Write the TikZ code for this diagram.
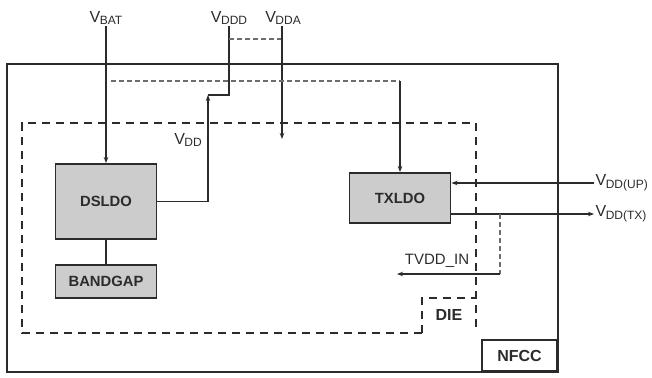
\documentclass[tikz,border=0pt]{standalone}
\usepackage{fontspec}
\setmainfont{Liberation Sans}
\usetikzlibrary{arrows.meta, positioning, calc}
\definecolor{cline}{HTML}{2B2B2B}
\definecolor{cdash}{HTML}{6E6E6E}
\definecolor{cfill}{HTML}{CCCCCC}
\newcommand{\vlabel}[1]{V\kern-0.5pt\raisebox{-0.3ex}{\fontsize{12}{12}\selectfont #1}}
\tikzset{
  every picture/.style={line width=1.2pt},
  block/.style={draw=cline, fill=cfill, line width=1.9pt, minimum width=101pt, align=center, text=cline, font=\fontsize{14.8}{16}\selectfont\bfseries},
  frame/.style={draw=cline, line width=1.9pt},
  diebox/.style={draw=cline, line width=2pt, dash pattern=on 8pt off 6pt},
  wire/.style={draw=cline, line width=1.2pt},
  arrow/.style={wire, -{Stealth[length=6pt,width=4.5pt]}},
  thindash/.style={wire, draw=cdash, line width=1.3pt, dash pattern=on 5pt off 3pt},
  pin/.style={font=\fontsize{16}{18}\selectfont, text=cline, inner sep=1pt},
  tag/.style={font=\fontsize{16}{18}\selectfont\bfseries, text=cline},
}
\begin{document}
\begin{tikzpicture}[x=1pt, y=-1pt]
  \useasboundingbox (0,0) rectangle (652,377);
  % NFCC chip outline
  \draw[frame] (7,64) rectangle (558,372);
  \node[tag, frame, minimum width=75pt, minimum height=31pt, anchor=south east] (nfcc) at (558,372) {NFCC};
  % die outline
  \node[tag, minimum width=53pt, minimum height=34pt, anchor=south east] (die) at (476,333) {DIE};
  \draw[diebox] (die.south west) -| (22,123) -| (die.south east);
  \draw[diebox] (die.south west) |- (die.north east);
  % blocks
  \node[block, minimum height=75pt] (dsldo) at (106,201.5) {DSLDO};
  \node[block, minimum height=33pt] (bandgap) at (106,281.5) {BANDGAP};
  \node[block, minimum height=50pt] (txldo) at (400,198) {TXLDO};
  \draw[wire] (dsldo.south) -- (bandgap.north);
  % supply pins
  \node[pin] (vbat) at (106,18) {\vlabel{BAT}};
  \node[pin] (vddd) at (229,18) {\vlabel{DDD}};
  \node[pin] (vdda) at (283,18) {\vlabel{DDA}};
  \node[pin] (vdd) at (188,140) {\vlabel{DD}};
  \node[pin, anchor=west] (vddup) at (594,183) {\vlabel{DD(UP)}};
  \node[pin, anchor=west] (vddtx) at (594,214) {\vlabel{DD(TX)}};
  \node[pin, font=\fontsize{15}{17}\selectfont] (tvdd) at (437,261) {TVDD\_IN};
  \coordinate (step) at (208,95);
  \coordinate (tapD) at (229,39);
  \coordinate (tapA) at (282,39);
  \coordinate (vddaend) at (282,139);
  \coordinate (battap) at (111,81);
  \coordinate (txtap) at (400,81);
  \coordinate (tvtap) at (500,214);
  \coordinate (tvcorner) at (500,274);
  \coordinate (tvend) at (397,274);
  % connections
  \draw[arrow] (vbat.south) -- (dsldo.north);
  \draw[arrow] (dsldo.east) -| (step);
  \draw[wire] (step) -| (vddd.south);
  \draw[thindash] (tapD) -- (tapA);
  \draw[arrow] (vdda.south -| vddaend) -- (vddaend);
  \draw[thindash] (battap) -- (txtap);
  \draw[arrow] (txtap) -- (txldo.north);
  \draw[arrow] (vddup.west) -- (vddup.west -| txldo.east);
  \draw[arrow] (vddtx.west -| txldo.east) -- (vddtx.west);
  \draw[thindash] (tvtap) -- (tvcorner);
  \draw[arrow] (tvcorner) -- (tvend);
\end{tikzpicture}
\end{document}
